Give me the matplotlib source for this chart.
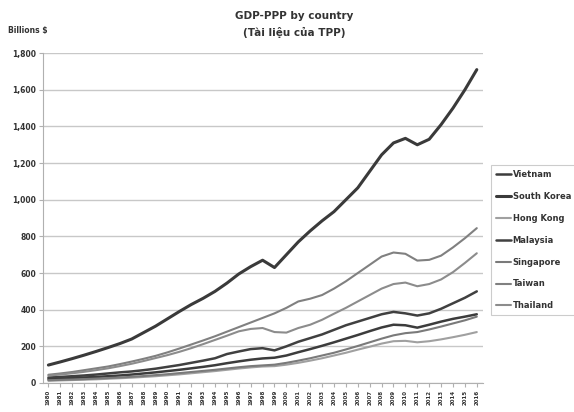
import numpy as np
import matplotlib
matplotlib.use('Agg')
import matplotlib.pyplot as plt

plt.rcParams['font.family'] = ['DejaVu Sans']

years = [str(y) for y in range(1980, 2017)]

# billions $
vietnam = [22, 24, 27, 30, 33, 37, 41, 46, 52, 58, 65, 72, 80, 88, 97, 108, 118, 127, 134, 138,
           150, 168, 185, 203, 222, 242, 262, 283, 303, 318, 315, 302, 318, 335, 350, 362, 375]
south_korea = [98, 115, 133, 152, 172, 193, 215, 240, 275, 310, 350, 390, 428, 462, 500, 545, 595, 635, 670, 630,
               700, 770, 830, 885, 935, 1000, 1065, 1155, 1245, 1310, 1335, 1300, 1330, 1410, 1500, 1600, 1710]
hong_kong = [12, 14, 16, 18, 20, 23, 26, 29, 33, 37, 42, 47, 53, 59, 65, 72, 79, 85, 90, 92,
             100, 110, 122, 135, 150, 165, 182, 198, 215, 228, 230, 222, 228, 238, 250, 263, 278]
malaysia = [30, 33, 37, 41, 46, 52, 58, 63, 70, 78, 88, 98, 110, 122, 135, 158, 172, 185, 190, 178,
            200, 225, 245, 265, 290, 315, 335, 355, 375, 388, 380, 368, 380, 405, 435, 465, 500]
singapore = [15, 17, 19, 21, 24, 27, 30, 34, 38, 43, 48, 54, 60, 66, 72, 79, 86, 92, 96, 100,
             110, 122, 135, 150, 165, 183, 202, 222, 242, 260, 272, 278, 292, 308, 325, 342, 362]
taiwan = [45, 52, 60, 70, 80, 90, 103, 117, 132, 148, 167, 188, 210, 232, 255, 280, 305, 330, 355, 380,
          410, 445, 460, 480, 515, 555, 600, 645, 690, 712, 705, 668, 672, 695, 740, 790, 845]
thailand = [40, 46, 53, 61, 70, 80, 92, 105, 120, 136, 152, 170, 190, 212, 235, 258, 282, 295, 300, 278,
            275, 300, 318, 345, 378, 410, 445, 480, 515, 540, 548, 528, 540, 565, 605, 655, 708]

series = [
    ('Vietnam', vietnam, '#3c3c3c', 1.8),
    ('South Korea', south_korea, '#3a3a3a', 2.2),
    ('Hong Kong', hong_kong, '#a0a0a0', 1.5),
    ('Malaysia', malaysia, '#404040', 1.8),
    ('Singapore', singapore, '#7a7a7a', 1.5),
    ('Taiwan', taiwan, '#808080', 1.5),
    ('Thailand', thailand, '#8c8c8c', 1.5),
]

fig = plt.figure(figsize=(5.74, 4.12), dpi=100)
ax = fig.add_axes([0.075, 0.0704, 0.766, 0.8006])

x = np.arange(len(years))
for name, vals, col, lw in series:
    ax.plot(x, vals, color=col, lw=lw, label=name, solid_capstyle='round')

ax.set_xlim(-0.45, 36.5)
ax.set_ylim(0, 1800)
ax.set_yticks(range(0, 1801, 200))
ax.set_yticklabels(['0'] + ['{:,}'.format(v) for v in range(200, 1801, 200)],
                   fontsize=5.5, fontweight='bold', color='#333333')
ax.set_xticks(x)
ax.set_xticklabels(years, rotation=90, fontsize=4, fontweight='bold', color='#333333')
ax.yaxis.grid(True, color='#c8c8c8', lw=1)
ax.set_axisbelow(True)
for s in ['top', 'right']:
    ax.spines[s].set_visible(False)
for s in ['left', 'bottom']:
    ax.spines[s].set_color('#b0b0b0')
ax.tick_params(axis='both', length=3, color='#b0b0b0', pad=2)

fig.text(0.512, 0.962, 'GDP-PPP by country', ha='center', va='center',
         fontsize=7.5, fontweight='bold', color='#333333')
fig.text(0.512, 0.922, '(Tài liệu của TPP)', ha='center', va='center',
         fontsize=7.5, fontweight='bold', color='#333333')
fig.text(0.014, 0.927, 'Billions $', ha='left', va='center', fontsize=5.5,
         fontweight='bold', color='#333333')

leg = fig.legend(loc='upper left', bbox_to_anchor=(0.848, 0.61), fontsize=6,
                 handlelength=1.8, labelspacing=1.55, handletextpad=0.2,
                 borderpad=0.6, frameon=True, fancybox=False)
leg.get_frame().set_edgecolor('#c0c0c0')
leg.get_frame().set_linewidth(0.8)
for t in leg.get_texts():
    t.set_fontweight('bold')
    t.set_color('#333333')

fig.savefig('out.png', dpi=100)
